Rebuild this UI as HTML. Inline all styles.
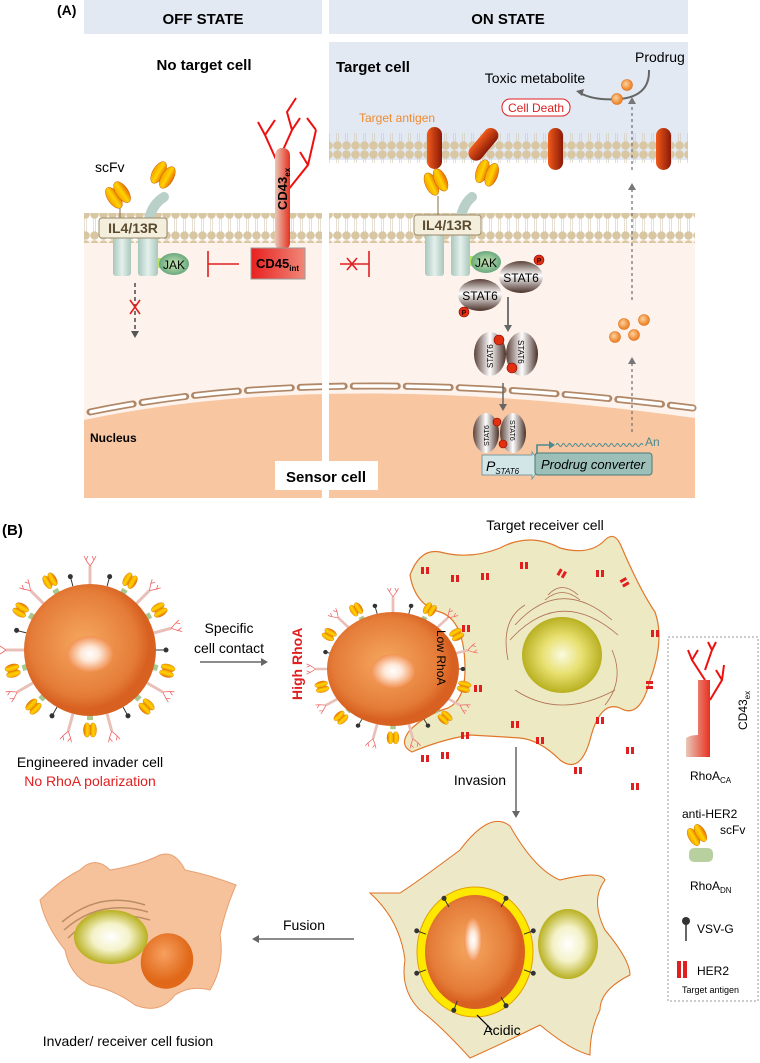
<!DOCTYPE html>
<html><head><meta charset="utf-8"><style>
html,body{margin:0;padding:0;background:#fff}
svg{display:block}
text{font-family:"Liberation Sans",sans-serif}
</style></head><body>
<svg width="760" height="1063" viewBox="0 0 760 1063" xmlns="http://www.w3.org/2000/svg">
<defs>
<pattern id="bil" x="0" y="0" width="9" height="30" patternUnits="userSpaceOnUse">
<line x1="3.5" y1="6" x2="3.5" y2="24" stroke="#cfc2a8" stroke-width="0.5"/>
<line x1="5.5" y1="6" x2="5.5" y2="24" stroke="#cfc2a8" stroke-width="0.5"/>
<circle cx="4.5" cy="4.5" r="4.3" fill="#d9c7a3"/>
<circle cx="4.5" cy="25.5" r="4.3" fill="#d9c7a3"/>
</pattern>
<linearGradient id="rod" x1="0" x2="1"><stop offset="0" stop-color="#f05a1a"/><stop offset="1" stop-color="#8a1a08"/></linearGradient>
<linearGradient id="cap" x1="0" x2="1"><stop offset="0" stop-color="#f7a000"/><stop offset=".5" stop-color="#ffd400"/><stop offset="1" stop-color="#e86a00"/></linearGradient>
<linearGradient id="stat" x1="0" y1="0" x2="0" y2="1"><stop offset="0" stop-color="#5a4038"/><stop offset=".45" stop-color="#fff"/><stop offset="1" stop-color="#4a3028"/></linearGradient>
<linearGradient id="statv" x1="0" x2="1"><stop offset="0" stop-color="#5a4038"/><stop offset=".5" stop-color="#fff"/><stop offset="1" stop-color="#4a3028"/></linearGradient>
<linearGradient id="cyl" x1="0" x2="1"><stop offset="0" stop-color="#a9c7bd"/><stop offset=".5" stop-color="#e4f0ec"/><stop offset="1" stop-color="#a9c7bd"/></linearGradient>
<linearGradient id="cd43" x1="0" x2="1"><stop offset="0" stop-color="#e8c8b8"/><stop offset="1" stop-color="#e83020"/></linearGradient>
<linearGradient id="cd45" x1="0" x2="1"><stop offset="0" stop-color="#e82020"/><stop offset="1" stop-color="#f08878"/></linearGradient>
<radialGradient id="jak"><stop offset="0" stop-color="#c8e8b0"/><stop offset="1" stop-color="#6aa880"/></radialGradient>
<radialGradient id="mol" cx=".4" cy=".4"><stop offset="0" stop-color="#fcd3a0"/><stop offset="1" stop-color="#ee8a30"/></radialGradient>
<radialGradient id="inv" cx=".45" cy=".45"><stop offset="0" stop-color="#f6a860"/><stop offset=".8" stop-color="#e47c38"/><stop offset="1" stop-color="#d86020"/></radialGradient>
<radialGradient id="nuc" cx=".5" cy=".5"><stop offset="0" stop-color="#fff"/><stop offset=".4" stop-color="#fde8d8"/><stop offset="1" stop-color="#f29050"/></radialGradient>
<radialGradient id="ynuc" cx=".5" cy=".5"><stop offset="0" stop-color="#fafae0"/><stop offset=".5" stop-color="#e8e070"/><stop offset="1" stop-color="#b8b020"/></radialGradient>
<radialGradient id="wnuc" cx=".5" cy=".5"><stop offset="0" stop-color="#fff"/><stop offset=".5" stop-color="#f4f2c8"/><stop offset="1" stop-color="#b8b020"/></radialGradient>
<radialGradient id="onuc" cx=".4" cy=".4"><stop offset="0" stop-color="#f7a060"/><stop offset="1" stop-color="#e06818"/></radialGradient>
<g id="scfv"><ellipse cx="-5" cy="0" rx="6" ry="12" fill="url(#cap)" stroke="#c86000" stroke-width=".5"/><ellipse cx="5" cy="0" rx="6" ry="12" fill="url(#cap)" stroke="#c86000" stroke-width=".5"/></g>
<g id="sp1"><line x1="0" y1="0" x2="0" y2="-18" stroke="#e8c0b8" stroke-width="3"/><path d="M0,-18 l-4,-6 M0,-18 l4,-6 M-4,-24 l-2,-4 M-4,-24 l2,-4 M4,-24 l-2,-4 M4,-24 l2,-4" stroke="#f06060" stroke-width=".8" fill="none"/></g>
<g id="sp2"><line x1="0" y1="0" x2="0" y2="-9" stroke="#333" stroke-width="1"/><circle cx="0" cy="-10" r="2.5" fill="#333"/></g>
<g id="sp3"><rect x="-3" y="-4" width="6" height="5" fill="#a8c890"/><g transform="translate(0,-14) scale(.6)"><use href="#scfv"/></g></g>
<g id="h2"><rect x="-4" y="-3" width="3" height="7" fill="#e02020"/><rect x="1" y="-3" width="3" height="7" fill="#e02020"/></g>
</defs>

<text x="57" y="15" font-size="14" font-weight="bold">(A)</text>
<rect x="84" y="0" width="238" height="34" fill="#e2e9f3"/>
<rect x="329" y="0" width="359" height="34" fill="#e2e9f3"/>
<text x="203" y="24" font-size="15" font-weight="bold" text-anchor="middle">OFF STATE</text>
<text x="508" y="24" font-size="15" font-weight="bold" text-anchor="middle">ON STATE</text>
<rect x="329" y="42" width="359" height="118" fill="#e2e9f3"/>
<rect x="84" y="240" width="238" height="258" fill="#fdf3ec"/>
<rect x="329" y="240" width="366" height="258" fill="#fdf3ec"/>
<path d="M84,420 Q330,368 695,418 L695,498 L84,498 Z" fill="#f8c6a0"/>
<path d="M90,412 Q330,362 693,408" fill="none" stroke="#b08868" stroke-width="7" stroke-dasharray="44 9" stroke-linecap="round"/>
<path d="M90,412 Q330,362 693,408" fill="none" stroke="#fff" stroke-width="3.5" stroke-dasharray="42 11" stroke-dashoffset="-1" stroke-linecap="round"/>
<rect x="322" y="0" width="7" height="500" fill="#fff"/>
<rect x="84" y="213" width="238" height="30" fill="url(#bil)"/>
<rect x="329" y="213" width="366" height="30" fill="url(#bil)"/>
<rect x="329" y="133" width="359" height="30" fill="url(#bil)"/>

<text x="204" y="70" font-size="15" font-weight="bold" text-anchor="middle">No target cell</text>
<text x="336" y="72" font-size="15" font-weight="bold">Target cell</text>
<text x="535" y="83" font-size="14" text-anchor="middle">Toxic metabolite</text>
<text x="635" y="62" font-size="14">Prodrug</text>
<rect x="502" y="99" width="68" height="17" rx="8" fill="#fff" stroke="#e02020" stroke-width="1"/>
<text x="536" y="112" font-size="12" fill="#e02020" text-anchor="middle">Cell Death</text>
<text x="359" y="122" font-size="12" fill="#f08a30">Target antigen</text>
<path d="M649,70 Q650,96 620,99 Q595,101 580,93" fill="none" stroke="#666" stroke-width="2"/>
<path d="M576,91 l8,-2 l-2,7 z" fill="#666"/>
<circle cx="627" cy="85" r="5.5" fill="url(#mol)" stroke="#e07020" stroke-width=".6"/>
<circle cx="617" cy="99" r="5.5" fill="url(#mol)" stroke="#e07020" stroke-width=".6"/>
<rect x="427" y="127" width="15" height="42" rx="7.5" fill="url(#rod)"/>
<rect x="476" y="125" width="15" height="38" rx="7.5" fill="url(#rod)" transform="rotate(40 483 144)"/>
<rect x="548" y="128" width="15" height="42" rx="7.5" fill="url(#rod)"/>
<rect x="656" y="128" width="15" height="42" rx="7.5" fill="url(#rod)"/>
<g stroke="#777" stroke-width="1.3" stroke-dasharray="3 3"><line x1="632" y1="432" x2="632" y2="362"/><line x1="632" y1="300" x2="632" y2="188"/><line x1="632" y1="170" x2="632" y2="102"/></g>
<g fill="#777"><path d="M628,364 l4,-7 l4,7z"/><path d="M628,190 l4,-7 l4,7z"/><path d="M628,104 l4,-7 l4,7z"/></g>
<g stroke="#e07020" stroke-width=".6" fill="url(#mol)"><circle cx="624" cy="324" r="5.5"/><circle cx="644" cy="320" r="5.5"/><circle cx="615" cy="337" r="5.5"/><circle cx="634" cy="335" r="5.5"/></g>

<path d="M148,238 Q146,208 164,197" stroke="#b8d0c8" stroke-width="10" fill="none" stroke-linecap="round"/>
<line x1="120" y1="206" x2="120" y2="220" stroke="#8a6a40" stroke-width="1"/>
<g transform="translate(118,195) rotate(-35)"><use href="#scfv"/></g>
<g transform="translate(163,175) rotate(30)"><use href="#scfv"/></g>
<rect x="113" y="236" width="18" height="40" rx="3" fill="url(#cyl)"/>
<rect x="138" y="236" width="20" height="40" rx="3" fill="url(#cyl)"/>
<rect x="99" y="218" width="68" height="20" rx="3" fill="#f4eedc" stroke="#9a8a6a"/>
<text x="133" y="233" font-size="14" font-weight="bold" fill="#5a4a30" text-anchor="middle">IL4/13R</text>
<text x="95" y="172" font-size="14">scFv</text>
<rect x="157" y="258" width="6" height="10" fill="#b8e060"/>
<ellipse cx="174" cy="264" rx="15" ry="11" fill="url(#jak)"/>
<text x="174" y="269" font-size="12" text-anchor="middle">JAK</text>
<g stroke="#e02020" stroke-width="1.6"><line x1="208" y1="251" x2="208" y2="277"/><line x1="208" y1="264" x2="239" y2="264"/></g>
<line x1="135" y1="283" x2="135" y2="333" stroke="#555" stroke-width="1.6" stroke-dasharray="4 3"/>
<path d="M131,331 l4,7 l4,-7z" fill="#555"/>
<path d="M130,300 l10,14 M140,300 l-10,14" stroke="#e02020" stroke-width="1.6"/>
<g stroke="#ee1010" stroke-width="2" fill="none">
<path d="M283,175 L265,135 L258,122 M265,135 L275,120 M283,150 L292,130 L287,112 L296,98 M292,130 L300,118 M288,190 L308,165 L316,130 M308,165 L300,152 M316,130 L307,118"/>
</g>
<rect x="275" y="148" width="15" height="102" rx="7" fill="url(#cd43)"/>
<text transform="translate(287,210) rotate(-90)" font-size="13" font-weight="bold">CD43<tspan font-size="8" dy="3">ex</tspan></text>
<rect x="251" y="248" width="54" height="31" fill="url(#cd45)" stroke="#999"/>
<text x="256" y="268" font-size="13" font-weight="bold">CD45<tspan font-size="8" dy="3">int</tspan></text>

<path d="M347,258 l10,12 M357,258 l-10,12" stroke="#e02020" stroke-width="1.6"/>
<g stroke="#e02020" stroke-width="1.6"><line x1="369" y1="251" x2="369" y2="277"/><line x1="340" y1="264" x2="369" y2="264"/></g>
<path d="M460,238 Q458,208 472,197" stroke="#b8d0c8" stroke-width="10" fill="none" stroke-linecap="round"/>
<line x1="438" y1="196" x2="438" y2="218" stroke="#8a6a40" stroke-width="1"/>
<g transform="translate(436,182) rotate(-25)"><use href="#scfv"/></g>
<g transform="translate(487,173) rotate(20)"><use href="#scfv"/></g>
<rect x="425" y="234" width="19" height="42" rx="3" fill="url(#cyl)"/>
<rect x="451" y="234" width="19" height="42" rx="3" fill="url(#cyl)"/>
<rect x="414" y="215" width="67" height="20" rx="3" fill="#f4eedc" stroke="#9a8a6a"/>
<text x="447" y="230" font-size="14" font-weight="bold" fill="#5a4a30" text-anchor="middle">IL4/13R</text>
<rect x="469" y="256" width="6" height="10" fill="#b8e060"/>
<ellipse cx="486" cy="262" rx="15" ry="11" fill="url(#jak)"/>
<text x="486" y="267" font-size="12" text-anchor="middle">JAK</text>
<ellipse cx="521" cy="277" rx="22" ry="16" fill="url(#stat)"/>
<text x="521" y="282" font-size="12" text-anchor="middle">STAT6</text>
<ellipse cx="480" cy="295" rx="22" ry="16" fill="url(#stat)"/>
<text x="480" y="300" font-size="12" text-anchor="middle">STAT6</text>
<g fill="#e03010" stroke="#800" stroke-width=".6"><circle cx="539" cy="260" r="5"/><circle cx="464" cy="312" r="5"/></g>
<g font-size="7" font-weight="bold" text-anchor="middle" fill="#300"><text x="539" y="263">P</text><text x="464" y="315">P</text></g>
<line x1="508" y1="297" x2="508" y2="327" stroke="#666" stroke-width="1.8"/><path d="M504,325 l4,7 l4,-7z" fill="#666"/>
<ellipse cx="490" cy="354" rx="16" ry="22" fill="url(#statv)"/>
<ellipse cx="522" cy="354" rx="16" ry="22" fill="url(#statv)"/>
<text transform="translate(493,368) rotate(-90)" font-size="8">STAT6</text>
<text transform="translate(518,340) rotate(90)" font-size="8">STAT6</text>
<g fill="#e03010" stroke="#800" stroke-width=".6"><circle cx="499" cy="340" r="5"/><circle cx="512" cy="368" r="5"/></g>
<line x1="503" y1="383" x2="503" y2="406" stroke="#666" stroke-width="1.5"/><path d="M499,404 l4,7 l4,-7z" fill="#666"/>
<ellipse cx="486" cy="433" rx="13" ry="20" fill="url(#statv)"/>
<ellipse cx="513" cy="433" rx="13" ry="20" fill="url(#statv)"/>
<text transform="translate(489,446) rotate(-90)" font-size="7">STAT6</text>
<text transform="translate(510,420) rotate(90)" font-size="7">STAT6</text>
<g fill="#e03010" stroke="#800" stroke-width=".6"><circle cx="497" cy="422" r="4"/><circle cx="503" cy="444" r="4"/></g>
<path d="M482,455 L532,455 L532,452 L542,465 L532,479 L532,475 L482,475 Z" fill="#d2e6e8" stroke="#7a9aa0"/>
<text x="486" y="471" font-size="14" font-style="italic">P<tspan font-size="8" dy="3">STAT6</tspan></text>
<rect x="535" y="453" width="117" height="22" rx="3" fill="#9cc0b8" stroke="#4a7a78"/>
<text x="593" y="469" font-size="13" font-style="italic" text-anchor="middle">Prodrug converter</text>
<path d="M537,453 L537,445 L550,445" stroke="#4a8a90" stroke-width="1.6" fill="none"/><path d="M549,441 l6,4 l-6,4z" fill="#4a8a90"/>
<path d="M556,445 q1.5,-3 3,0 t3,0 t3,0 t3,0 t3,0 t3,0 t3,0 t3,0 t3,0 t3,0 t3,0 t3,0 t3,0 t3,0 t3,0 t3,0 t3,0 t3,0 t3,0 t3,0 t3,0 t3,0 t3,0 t3,0 t3,0 t3,0 t3,0 t3,0 t3,0" stroke="#4a8a90" fill="none" stroke-width=".9"/>
<text x="645" y="446" font-size="12" fill="#4a8a90">An</text>
<text x="90" y="442" font-size="12" font-weight="bold">Nucleus</text>
<rect x="275" y="461" width="103" height="29" fill="#fff"/>
<text x="326" y="482" font-size="15" font-weight="bold" text-anchor="middle">Sensor cell</text>

<text x="2" y="535" font-size="15" font-weight="bold">(B)</text>
<g transform="translate(90,650)">
<g id="ring1">
<use href="#sp1" transform="rotate(0) translate(0,-66)"/><use href="#sp2" transform="rotate(15) translate(0,-66)"/><use href="#sp3" transform="rotate(30) translate(0,-66)"/>
<use href="#sp1" transform="rotate(45) translate(0,-66)"/><use href="#sp3" transform="rotate(60) translate(0,-66)"/><use href="#sp1" transform="rotate(75) translate(0,-66)"/>
<use href="#sp2" transform="rotate(90) translate(0,-66)"/><use href="#sp3" transform="rotate(105) translate(0,-66)"/><use href="#sp1" transform="rotate(120) translate(0,-66)"/>
<use href="#sp3" transform="rotate(135) translate(0,-66)"/><use href="#sp2" transform="rotate(150) translate(0,-66)"/><use href="#sp1" transform="rotate(165) translate(0,-66)"/>
<use href="#sp3" transform="rotate(180) translate(0,-66)"/><use href="#sp1" transform="rotate(195) translate(0,-66)"/><use href="#sp2" transform="rotate(210) translate(0,-66)"/>
<use href="#sp3" transform="rotate(225) translate(0,-66)"/><use href="#sp1" transform="rotate(240) translate(0,-66)"/><use href="#sp3" transform="rotate(255) translate(0,-66)"/>
<use href="#sp1" transform="rotate(270) translate(0,-66)"/><use href="#sp2" transform="rotate(285) translate(0,-66)"/><use href="#sp3" transform="rotate(300) translate(0,-66)"/>
<use href="#sp1" transform="rotate(315) translate(0,-66)"/><use href="#sp3" transform="rotate(330) translate(0,-66)"/><use href="#sp2" transform="rotate(345) translate(0,-66)"/>
</g>
<circle r="66" fill="url(#inv)"/>
<ellipse cx="0" cy="4" rx="23" ry="18" fill="url(#nuc)"/>
</g>
<text x="90" y="767" font-size="14" text-anchor="middle">Engineered invader cell</text>
<text x="90" y="786" font-size="14" fill="#e02020" text-anchor="middle">No RhoA polarization</text>
<text x="229" y="633" font-size="14" text-anchor="middle">Specific</text>
<text x="229" y="653" font-size="14" text-anchor="middle">cell contact</text>
<line x1="200" y1="662" x2="262" y2="662" stroke="#666" stroke-width="1.5"/><path d="M261,658 l7,4 l-7,4z" fill="#666"/>

<path d="M410,575 Q420,548 440,552 Q470,560 500,548 Q530,532 560,548 Q590,556 605,540 Q615,530 622,548 Q640,590 655,612 Q665,640 650,680 Q640,720 620,708 Q600,700 590,740 Q580,775 560,760 Q540,740 520,738 Q490,736 470,735 Q440,740 412,752 Q398,745 410,730 Q425,715 448,708 Q465,700 465,670 Q465,620 440,612 Q415,605 410,575 Z" fill="#ece8c0" stroke="#e07020" stroke-width="1.2" opacity=".95"/>
<ellipse cx="562" cy="655" rx="40" ry="38" fill="url(#ynuc)"/>
<g fill="none" stroke="#b07050" stroke-width=".8">
<path d="M515,625 Q560,575 612,620"/><path d="M510,640 Q560,585 618,635"/><path d="M515,690 Q560,720 615,690"/><path d="M508,660 Q500,620 525,605"/><path d="M612,650 Q625,680 605,705"/>
<path d="M545,600 Q562,585 580,600"/><path d="M548,595 Q562,580 578,595"/></g>
<g>
<use href="#h2" transform="translate(524,565)"/><use href="#h2" transform="translate(562,573) rotate(30)"/><use href="#h2" transform="translate(600,573)"/><use href="#h2" transform="translate(625,582) rotate(60)"/><use href="#h2" transform="translate(655,633)"/><use href="#h2" transform="translate(650,685) rotate(90)"/><use href="#h2" transform="translate(635,786)"/><use href="#h2" transform="translate(578,770)"/><use href="#h2" transform="translate(540,740)"/><use href="#h2" transform="translate(515,724)"/><use href="#h2" transform="translate(465,735)"/><use href="#h2" transform="translate(445,755)"/><use href="#h2" transform="translate(425,758)"/><use href="#h2" transform="translate(425,570)"/><use href="#h2" transform="translate(455,578)"/><use href="#h2" transform="translate(485,576)"/><use href="#h2" transform="translate(630,750)"/><use href="#h2" transform="translate(600,720)"/><use href="#h2" transform="translate(466,628)"/><use href="#h2" transform="translate(478,688)"/>
</g>
<g transform="translate(393,669)">
<use href="#ring1" transform="scale(.92,.86)"/>
<ellipse rx="66" ry="57" fill="url(#inv)"/>
<ellipse cx="0" cy="2" rx="22" ry="17" fill="url(#nuc)"/>
</g>
<text transform="translate(302,700) rotate(-90)" font-size="14" font-weight="bold" fill="#e02020">High  RhoA</text>
<text transform="translate(437,630) rotate(90)" font-size="12">Low RhoA</text>
<text x="545" y="530" font-size="14" text-anchor="middle">Target receiver cell</text>
<line x1="516" y1="747" x2="516" y2="812" stroke="#666" stroke-width="1.5"/><path d="M512,811 l4,7 l4,-7z" fill="#666"/>
<text x="480" y="785" font-size="14" text-anchor="middle">Invasion</text>

<path d="M400,893 Q420,880 460,850 Q490,810 510,826 Q535,870 560,880 Q600,870 605,880 Q590,900 605,930 Q630,960 630,975 Q600,990 600,1010 Q590,1030 590,1055 Q570,1050 540,1025 Q510,1040 470,1058 Q440,1025 420,1010 Q400,990 405,960 Q400,920 370,893 Z" fill="#ece8c8" stroke="#e07020" stroke-width="1"/>
<ellipse cx="568" cy="944" rx="30" ry="35" fill="url(#wnuc)"/>
<ellipse cx="475" cy="952" rx="58" ry="65" fill="#ffe800" stroke="#e0a000"/>
<ellipse cx="475" cy="952" rx="50" ry="57" fill="url(#inv)"/>
<ellipse cx="473" cy="940" rx="9" ry="22" fill="url(#nuc)"/>
<g transform="translate(475,952)"><use href="#sp2" transform="rotate(30) translate(0,-52)"/><use href="#sp2" transform="rotate(70) translate(0,-52)"/><use href="#sp2" transform="rotate(110) translate(0,-52)"/><use href="#sp2" transform="rotate(150) translate(0,-52)"/><use href="#sp2" transform="rotate(200) translate(0,-52)"/><use href="#sp2" transform="rotate(250) translate(0,-52)"/><use href="#sp2" transform="rotate(290) translate(0,-52)"/><use href="#sp2" transform="rotate(330) translate(0,-52)"/></g>
<line x1="477" y1="1015" x2="492" y2="1030" stroke="#000" stroke-width="1.2"/>
<text x="502" y="1035" font-size="14" text-anchor="middle">Acidic</text>
<line x1="354" y1="939" x2="258" y2="939" stroke="#666" stroke-width="1.5"/><path d="M259,935 l-7,4 l7,4z" fill="#666"/>
<text x="304" y="930" font-size="14" text-anchor="middle">Fusion</text>

<path d="M40,900 Q60,880 80,870 Q95,855 110,870 Q140,865 160,855 Q175,850 185,870 Q210,875 236,885 Q225,910 220,935 Q225,965 210,990 Q190,985 175,995 Q160,1015 135,1005 Q115,990 90,985 Q70,975 65,950 Q45,925 40,900 Z" fill="#f6c29c" stroke="#e8a070" stroke-width="1"/>
<g fill="none" stroke="#a07848" stroke-width="1.5" opacity=".7"><path d="M62,922 Q100,890 145,905"/><path d="M64,930 Q100,898 148,912"/><path d="M68,938 Q100,906 150,920"/></g>
<ellipse cx="111" cy="937" rx="37" ry="27" fill="url(#wnuc)"/>
<ellipse cx="167" cy="961" rx="26" ry="28" fill="url(#onuc)" transform="rotate(20 167 961)"/>
<text x="128" y="1046" font-size="14" text-anchor="middle">Invader/ receiver cell fusion</text>

<rect x="668" y="637" width="90" height="364" fill="#fff" stroke="#999" stroke-dasharray="2 2"/>
<g stroke="#ee1010" stroke-width="2" fill="none"><path d="M705,680 L692,660 L688,650 M692,660 L698,650 M705,670 L712,650 L708,642 M712,650 L716,642 M710,700 L722,680 L724,665 M722,680 L716,670"/></g>
<path d="M698,680 L710,680 L710,757 L686,757 L686,738 Q690,735 698,735 Z" fill="url(#cd43)"/>
<text transform="translate(747,730) rotate(-90)" font-size="12">CD43<tspan font-size="8" dy="3">ex</tspan></text>
<text x="690" y="780" font-size="12">RhoA<tspan font-size="8" dy="3">CA</tspan></text>
<text x="682" y="818" font-size="12">anti-HER2</text>
<g transform="translate(697,835) rotate(-30) scale(.8)"><use href="#scfv"/></g>
<text x="720" y="834" font-size="12">scFv</text>
<rect x="689" y="848" width="24" height="14" rx="5" fill="#b8d0a0"/>
<text x="690" y="890" font-size="12">RhoA<tspan font-size="8" dy="3">DN</tspan></text>
<line x1="686" y1="922" x2="686" y2="941" stroke="#333" stroke-width="1.5"/><circle cx="686" cy="921" r="4" fill="#333"/>
<text x="697" y="933" font-size="12">VSV-G</text>
<rect x="677" y="961" width="4" height="17" fill="#e02020"/><rect x="683" y="961" width="4" height="17" fill="#e02020"/>
<text x="697" y="975" font-size="12">HER2</text>
<text x="682" y="993" font-size="9">Target antigen</text>
</svg>
</body></html>
